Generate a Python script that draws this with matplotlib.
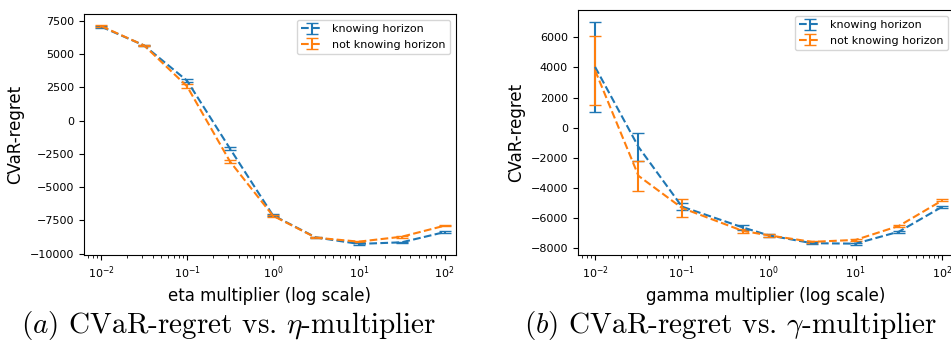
import numpy as np
import matplotlib
matplotlib.use("Agg")
import matplotlib.pyplot as plt

plt.rcParams['mathtext.fontset'] = 'cm'

# ---- data ----
eta_mult = [0.01, 0.0316, 0.1, 0.316, 1.0, 3.16, 10.0, 31.6, 100.0]
eta_know = [7060, 5650, 3000, -2100, -7120, -8780, -9270, -9150, -8380]
eta_know_err = [70, 60, 100, 130, 80, 60, 60, 60, 60]
eta_notknow = [7100, 5650, 2580, -3070, -7150, -8800, -9100, -8730, -7900]
eta_notknow_err = [70, 60, 150, 130, 80, 60, 60, 60, 60]

gamma_mult = [0.01, 0.0316, 0.1, 0.5, 1.0, 3.16, 10.0, 31.6, 100.0]
gamma_know = [4030, -1280, -5240, -6620, -7150, -7670, -7700, -6900, -5240]
gamma_know_err = [3000, 910, 220, 170, 80, 60, 60, 60, 60]
gamma_notknow = [3800, -3200, -5330, -6850, -7150, -7580, -7450, -6520, -4820]
gamma_notknow_err = [2310, 1000, 580, 120, 80, 60, 60, 60, 60]

labels = ["knowing horizon", "not knowing horizon"]
xlabels = ["eta multiplier (log scale)", "gamma multiplier (log scale)"]
ylabel = "CVaR-regret"
captions = [r"$(a)$ CVaR-regret vs. $\eta$-multiplier",
            r"$(b)$ CVaR-regret vs. $\gamma$-multiplier"]

blue = "#1f77b4"
orange = "#ff7f0e"

fig = plt.figure(figsize=(9.51, 3.45), dpi=100)
ax1 = fig.add_axes([0.0883, 0.261, 0.391, 0.698])
ax2 = fig.add_axes([0.6075, 0.261, 0.3954, 0.710])

def draw(ax, x, k, ke, n, ne, xlabel):
    ax.errorbar(x, k, yerr=ke, fmt='--', color=blue, capsize=4, label=labels[0])
    ax.errorbar(x, n, yerr=ne, fmt='--', color=orange, capsize=4, label=labels[1])
    ax.set_xscale('log')
    ax.set_xlim(10**-2.2, 10**2.13)
    ax.set_xlabel(xlabel, fontsize=12)
    ax.set_ylabel(ylabel, fontsize=12)
    ax.tick_params(labelsize=8)
    ax.legend(loc='upper right', fontsize=8)

draw(ax1, eta_mult, eta_know, eta_know_err, eta_notknow, eta_notknow_err, xlabels[0])
draw(ax2, gamma_mult, gamma_know, gamma_know_err, gamma_notknow, gamma_notknow_err, xlabels[1])
ax1.set_ylim(-10100, 8000)
ax1.set_yticks([-10000, -7500, -5000, -2500, 0, 2500, 5000, 7500])
ax2.set_ylim(-8450, 7810)

fig.text(0.240, 0.057, captions[0], fontsize=21, family='cmr10', ha='center', va='center')
fig.text(0.768, 0.057, captions[1], fontsize=21, family='cmr10', ha='center', va='center')

fig.savefig("out.png", dpi=100)
